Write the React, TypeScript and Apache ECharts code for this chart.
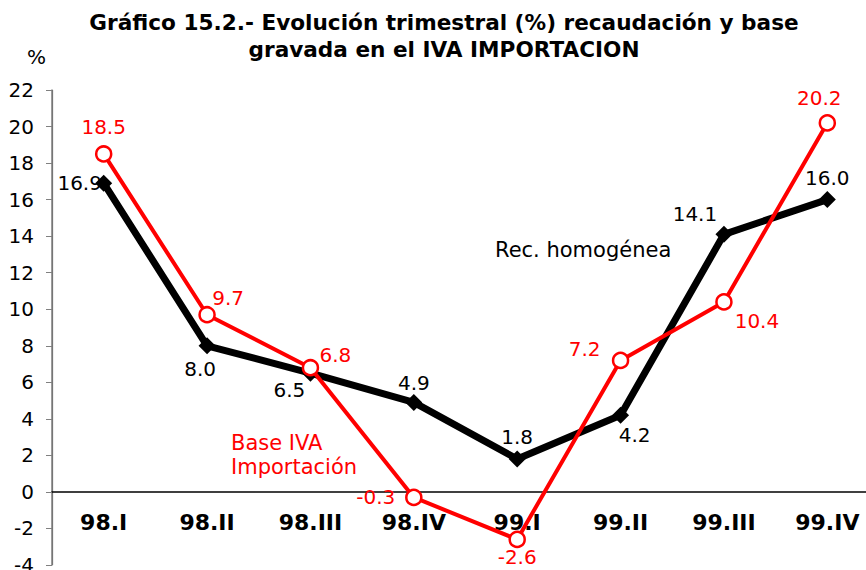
import React, { useEffect, useRef } from "react";
import * as echarts from "echarts";

const categories = ["98.I", "98.II", "98.III", "98.IV", "99.I", "99.II", "99.III", "99.IV"];
const recHomogenea = [16.9, 8.0, 6.5, 4.9, 1.8, 4.2, 14.1, 16.0];
const baseIva = [18.5, 9.7, 6.8, -0.3, -2.6, 7.2, 10.4, 20.2];
const yTicks = { min: -4, max: 22, interval: 2 };

// label placement offsets (style only)
const blackLabelOffsets: [number, number][] = [
  [-24, 0], [-7, 23], [-21, 17], [0, -19], [0, -22], [14, 20], [-29, -20], [0, -22],
];
const redLabelOffsets: [number, number][] = [
  [0, -27], [21, -17], [25, -13], [-38, 0], [0, 18], [-36, -11], [33, 19], [-8, -25],
];

export default function App() {
  const ref = useRef<HTMLDivElement>(null);
  useEffect(() => {
    if (!ref.current) return;
    const chart = echarts.init(ref.current, null, { renderer: "svg" });
    const numFont = "DejaVu Sans, Verdana, sans-serif";
    const boldFont = "DejaVu Sans, Verdana, sans-serif";
    chart.setOption({
      animation: false,
      backgroundColor: "#ffffff",
      grid: {
        left: 52,
        right: -13,
        top: 90,
        bottom: 5,
        containLabel: false,
        outerBoundsMode: "none",
      },
      xAxis: {
        type: "category",
        data: categories,
        boundaryGap: true,
        axisLine: { onZero: true, lineStyle: { color: "#000", width: 1.5 } },
        axisTick: { show: false },
        axisLabel: {
          margin: -54,
          color: "#000",
          fontFamily: boldFont,
          fontWeight: "bold",
          fontSize: 22,
        },
        splitLine: {
          show: true,
          interval: (index: number) => index === 4,
          lineStyle: { color: "#555", width: 1.2 },
        },
      },
      yAxis: {
        type: "value",
        min: yTicks.min,
        max: yTicks.max,
        interval: yTicks.interval,
        axisLine: { show: true, onZero: false, lineStyle: { color: "#808080", width: 1.5 } },
        axisTick: { show: true, inside: false, length: 6, lineStyle: { color: "#808080" } },
        axisLabel: { color: "#000", fontFamily: numFont, fontSize: 20, margin: 18 },
        splitLine: { show: false },
      },
      graphic: [
        {
          type: "text",
          x: 444,
          y: 9,
          style: {
            text: "Gráfico 15.2.- Evolución trimestral (%) recaudación y base\ngravada en el IVA IMPORTACION",
            font: `bold 21.6px ${boldFont}`,
            fill: "#000",
            align: "center",
            textAlign: "center",
            lineHeight: 27,
          },
        },
        {
          type: "text",
          x: 27,
          y: 47,
          style: { text: "%", font: `20px ${numFont}`, fill: "#000" },
        },
        {
          type: "text",
          x: 231,
          y: 431,
          style: {
            text: "Base IVA\nImportación",
            font: `21px ${numFont}`,
            fill: "#ff0000",
            lineHeight: 24,
          },
        },
        {
          type: "text",
          x: 495,
          y: 239,
          style: { text: "Rec. homogénea", font: `21px ${numFont}`, fill: "#000" },
        },
      ],
      series: [
        {
          name: "Rec. homogénea",
          type: "line",
          data: recHomogenea.map((v, i) => ({
            value: v,
            label: { offset: blackLabelOffsets[i] },
          })),
          symbol: "diamond",
          symbolSize: 17,
          lineStyle: { color: "#000", width: 7 },
          itemStyle: { color: "#000" },
          label: {
            show: true,
            position: "inside",
            color: "#000",
            fontFamily: numFont,
            fontSize: 20,
            formatter: (p: any) => Number(p.value).toFixed(1),
          },
          z: 2,
        },
        {
          name: "Base IVA Importación",
          type: "line",
          data: baseIva.map((v, i) => ({
            value: v,
            label: { offset: redLabelOffsets[i] },
          })),
          symbol: "circle",
          symbolSize: 15,
          lineStyle: { color: "#ff0000", width: 4 },
          itemStyle: { color: "#ffffff", borderColor: "#ff0000", borderWidth: 2.5 },
          label: {
            show: true,
            position: "inside",
            color: "#ff0000",
            fontFamily: numFont,
            fontSize: 20,
            formatter: (p: any) => Number(p.value).toFixed(1),
          },
          z: 3,
        },
      ],
    });
    return () => chart.dispose();
  }, []);
  return (
    <div
      ref={ref}
      style={{ position: "absolute", left: 0, top: 0, width: 866, height: 570 }}
    />
  );
}
